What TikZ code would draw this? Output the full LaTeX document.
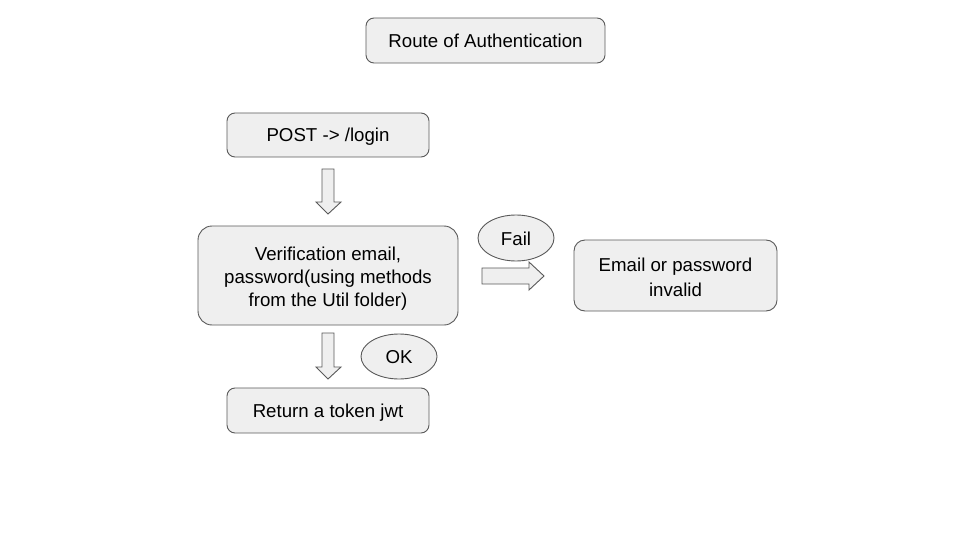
\documentclass[tikz,border=0pt]{standalone}
\usepackage{fontspec}
\setmainfont{Liberation Sans}
\usetikzlibrary{shapes.geometric}
\definecolor{boxfill}{HTML}{EFEFEF}
\definecolor{boxline}{HTML}{595959}
\definecolor{txt}{HTML}{000000}
\tikzset{
  box/.style={draw=boxline, fill=boxfill, line width=0.9pt, rounded corners=8pt,
    inner sep=0pt, align=center, text=txt, text height=16pt, text depth=2pt,
    font=\fontsize{18.67pt}{23.5pt}\selectfont},
  multibox/.style={draw=boxline, fill=boxfill, line width=0.9pt,
    inner sep=0pt, text=txt},
  lbl/.style={inner sep=0pt, align=center, text=txt,
    font=\fontsize{18.67pt}{#1}\selectfont},
  tag/.style={draw=boxline, fill=boxfill, line width=0.9pt, ellipse, inner sep=0pt,
    text=txt, text height=16pt, text depth=2pt,
    font=\fontsize{18.67pt}{23.5pt}\selectfont},
  blockarrow/.style={draw=boxline, fill=boxfill, line width=0.9pt, line join=miter}
}
\begin{document}
\begin{tikzpicture}[x=1pt,y=-1pt]
\useasboundingbox (0,0) rectangle (960,540);
\node[box, minimum width=239pt, minimum height=45pt] (title) at (485.5,40.5) {Route of Authentication};
\node[box, minimum width=202pt, minimum height=44pt] (post) at (328,135) {POST -> /login};
\node[multibox, rounded corners=14pt, minimum width=260pt, minimum height=99pt] (verif) at (328,275.5) {};
\node[lbl=23pt, yshift=-3pt] (veriftext) at (verif.center)
  {Verification email,\\password(using methods\\from the Util folder)};
\node[box, minimum width=202pt, minimum height=45pt] (ret) at (328,410.5) {Return a token jwt};
\node[multibox, rounded corners=11pt, minimum width=203pt, minimum height=71pt] (email) at (675.5,275.5) {};
\node[lbl=25pt, yshift=-1.5pt] (emailtext) at (email.center) {Email or password\\invalid};
\node[tag, minimum width=76pt, minimum height=46pt] (fail) at (516,238) {Fail};
\node[tag, minimum width=76pt, minimum height=45pt] (ok) at (399,356.5) {OK};
% block arrows
\draw[blockarrow] (322,169) -- (334,169) -- (334,202) -- (341,202) -- (328,214) -- (316,202) -- (322,202) -- cycle;
\draw[blockarrow] (322,333) -- (334,333) -- (334,367) -- (341,367) -- (328,379) -- (316,367) -- (322,367) -- cycle;
\draw[blockarrow] (482,268) -- (529,268) -- (529,262) -- (544,276) -- (529,290) -- (529,284) -- (482,284) -- cycle;
\end{tikzpicture}
\end{document}
